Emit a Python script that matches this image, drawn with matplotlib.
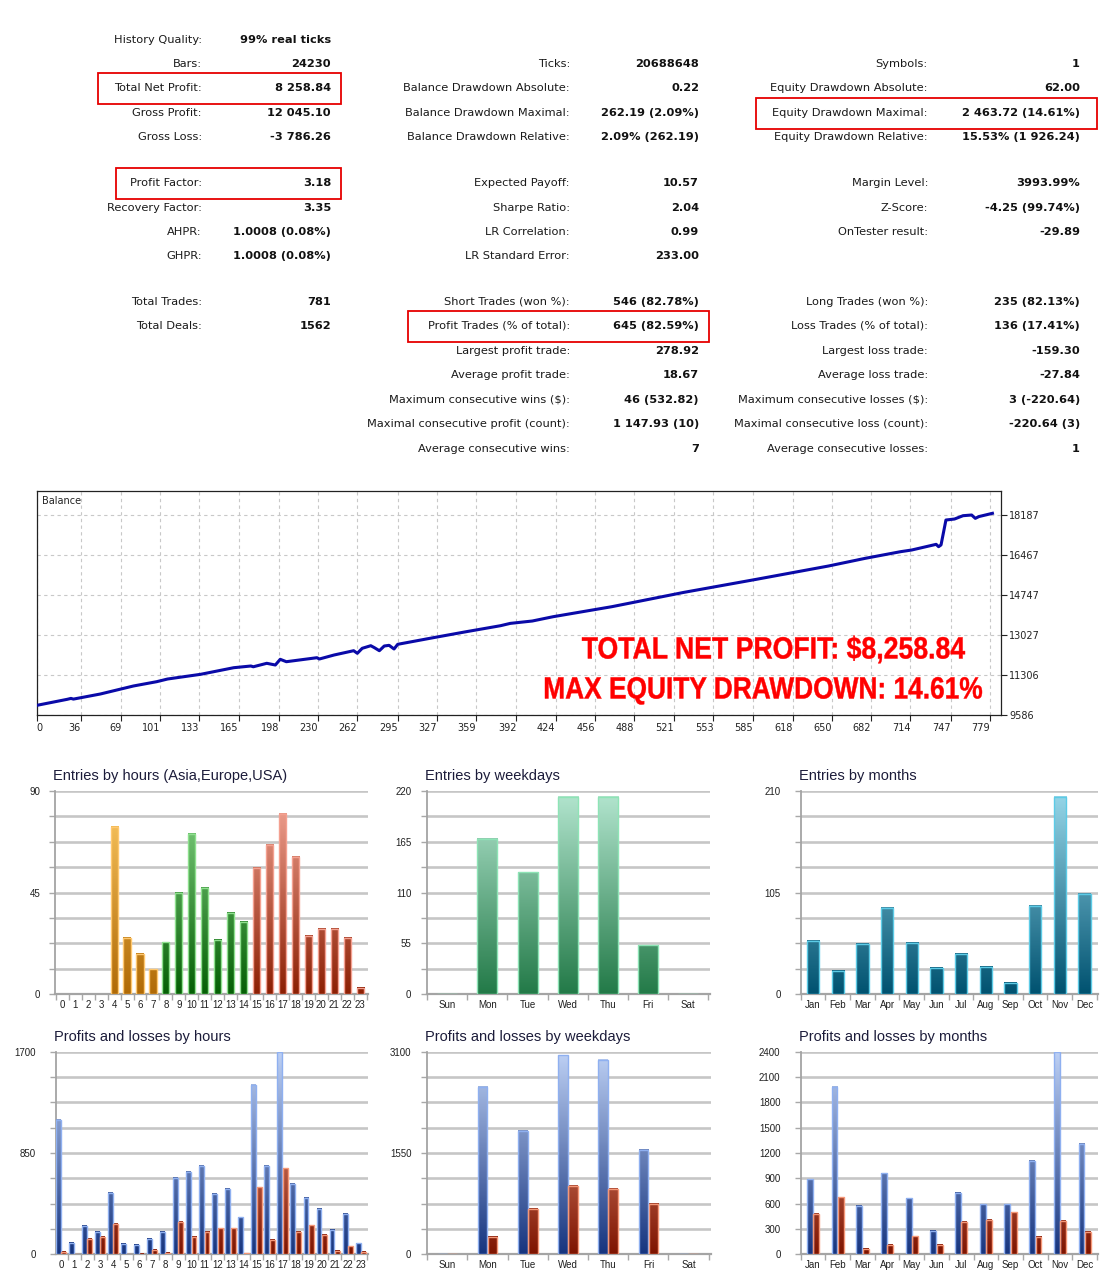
import numpy as np
import matplotlib.pyplot as plt
from matplotlib import font_manager
from matplotlib.colors import LinearSegmentedColormap
from matplotlib.patches import Rectangle, PathPatch
from matplotlib.textpath import TextPath
from matplotlib.font_manager import FontProperties
from matplotlib.transforms import Affine2D

# --- report table ---
left_labels = ["History Quality:", "Bars:", "Total Net Profit:", "Gross Profit:", "Gross Loss:",
               "Profit Factor:", "Recovery Factor:", "AHPR:", "GHPR:", "Total Trades:", "Total Deals:"]
left_values = ["99% real ticks", "24230", "8 258.84", "12 045.10", "-3 786.26",
               "3.18", "3.35", "1.0008 (0.08%)", "1.0008 (0.08%)", "781", "1562"]
mid_labels = ["Ticks:", "Balance Drawdown Absolute:", "Balance Drawdown Maximal:", "Balance Drawdown Relative:",
              "Expected Payoff:", "Sharpe Ratio:", "LR Correlation:", "LR Standard Error:",
              "Short Trades (won %):", "Profit Trades (% of total):", "Largest profit trade:",
              "Average profit trade:", "Maximum consecutive wins ($):",
              "Maximal consecutive profit (count):", "Average consecutive wins:"]
mid_values = ["20688648", "0.22", "262.19 (2.09%)", "2.09% (262.19)", "10.57", "2.04", "0.99", "233.00",
              "546 (82.78%)", "645 (82.59%)", "278.92", "18.67", "46 (532.82)", "1 147.93 (10)", "7"]
right_labels = ["Symbols:", "Equity Drawdown Absolute:", "Equity Drawdown Maximal:", "Equity Drawdown Relative:",
                "Margin Level:", "Z-Score:", "OnTester result:",
                "Long Trades (won %):", "Loss Trades (% of total):", "Largest loss trade:",
                "Average loss trade:", "Maximum consecutive losses ($):",
                "Maximal consecutive loss (count):", "Average consecutive losses:"]
right_values = ["1", "62.00", "2 463.72 (14.61%)", "15.53% (1 926.24)", "3993.99%", "-4.25 (99.74%)",
                "-29.89", "235 (82.13%)", "136 (17.41%)", "-159.30", "-27.84", "3 (-220.64)",
                "-220.64 (3)", "1"]

# --- balance curve (trade #, balance) ---
bal_trade = [0, 25, 28, 30, 52, 79, 98, 107, 134, 161, 175, 177, 188, 195, 199, 204, 229, 231,
             243, 259, 262, 266, 273, 276, 280, 284, 288, 292, 295, 324, 351, 379, 387, 405, 422,
             470, 529, 588, 647, 677, 706, 715, 735, 737, 739, 743, 750, 757, 764, 767, 770, 781]
bal_value = [10000, 10261, 10300, 10270, 10489, 10833, 11018, 11134, 11336, 11620, 11693, 11660,
             11809, 11736, 11981, 11878, 12050, 11994, 12166, 12351, 12239, 12454, 12566, 12480,
             12351, 12553, 12582, 12424, 12626, 12910, 13168, 13426, 13526, 13628, 13813,
             14244, 14861, 15420, 15993, 16323, 16610, 16681, 16925, 16824, 16900, 17971,
             18014, 18157, 18186, 18043, 18120, 18259]
bal_yticks = [9586, 11306, 13027, 14747, 16467, 18187]
bal_xticks = [0, 36, 69, 101, 133, 165, 198, 230, 262, 295, 327, 359, 392, 424, 456, 488,
              521, 553, 585, 618, 650, 682, 714, 747, 779]
bal_ytop = 19219
banner = ["TOTAL NET PROFIT: $8,258.84", "MAX EQUITY DRAWDOWN: 14.61%"]

# --- distributions ---
hours = [str(h) for h in range(24)]
weekdays = ["Sun", "Mon", "Tue", "Wed", "Thu", "Fri", "Sat"]
months = ["Jan", "Feb", "Mar", "Apr", "May", "Jun", "Jul", "Aug", "Sep", "Oct", "Nov", "Dec"]

entries_hours = [0, 0, 0, 0, 74, 25, 18, 11, 23, 45, 71, 47, 24, 36, 32, 56, 66, 80, 61, 26, 29, 29, 25, 3]
entries_weekdays = [0, 168, 132, 214, 214, 53, 0]
entries_months = [55, 24, 52, 89, 53, 27, 42, 28, 12, 91, 204, 104]

profit_hours = [1127, 98, 235, 185, 512, 89, 78, 131, 190, 643, 693, 744, 506, 551, 310, 1420,
                744, 1694, 593, 475, 383, 204, 338, 92]
loss_hours = [22, 0, 131, 145, 252, 0, 5, 34, 11, 271, 148, 187, 218, 218, 8, 562, 120, 721,
              185, 243, 165, 28, 67, 22]
profit_weekdays = [0, 2565, 1886, 3044, 2978, 1596, 0]
loss_weekdays = [0, 270, 698, 1050, 999, 770, 0]
profit_months = [888, 1982, 572, 959, 663, 280, 730, 592, 592, 1105, 2400, 1311]
loss_months = [478, 675, 67, 107, 213, 107, 387, 403, 497, 205, 391, 261]

# ---------------------------------------------------------------
W, H = 1114, 1284
fig = plt.figure(figsize=(W / 100, H / 100), dpi=100)
fig.patch.set_facecolor('white')

names = {f.name for f in font_manager.fontManager.ttflist}
NARROW = 'Liberation Sans Narrow' in names
TICKFONT = 'Liberation Sans Narrow' if NARROW else 'Liberation Sans'
TICKSIZE = 8 if NARROW else 7


def fx(x):
    return x / W


def fy(y):
    return 1 - y / H


def rect(l, t, r, b):
    return [l / W, 1 - b / H, (r - l) / W, (b - t) / H]


# --- table ---
ROW_Y = [40, 64, 88, 113, 137, 183, 208, 232, 256, 302, 326, 351, 375, 400, 424, 449]
cols = [
    (left_labels, left_values, list(range(0, 11)), 202, 331),
    (mid_labels, mid_values, list(range(1, 16)), 570, 699),
    (right_labels, right_values, [1, 2, 3, 4, 5, 6, 7, 9, 10, 11, 12, 13, 14, 15], 928, 1080),
]
for labels, values, rows, lx, vx in cols:
    for lab, val, r in zip(labels, values, rows):
        fig.text(fx(lx), fy(ROW_Y[r]), lab, ha='right', va='center', fontsize=8.2,
                 color='#1a1a1a', family='DejaVu Sans')
        fig.text(fx(vx), fy(ROW_Y[r]), val, ha='right', va='center', fontsize=8.2,
                 color='#111111', family='DejaVu Sans', fontweight='bold')

# red highlight boxes
for l, t, r, b in [(98, 73, 341, 104), (116, 168, 341, 199), (408, 311, 709, 342), (756, 98, 1097, 129)]:
    fig.add_artist(Rectangle((fx(l), fy(b)), (r - l) / W, (b - t) / H, transform=fig.transFigure,
                             fill=False, ec='#e60000', lw=1.3))

# --- balance graph ---
ax = fig.add_axes(rect(36.7, 491, 1001, 715))
ax.plot(bal_trade, bal_value, color='#0a0aa8', lw=2.2, zorder=3)
ax.set_xlim(0, 788)
ax.set_ylim(bal_yticks[0], bal_ytop)
ax.set_xticks(bal_xticks)
ax.set_xticklabels([str(v) for v in bal_xticks])
for i, t in enumerate(ax.get_xticklabels()):
    t.set_ha('left' if i == 0 else 'right')
ax.set_yticks(bal_yticks)
ax.set_yticklabels([str(v) for v in bal_yticks])
ax.yaxis.tick_right()
ax.tick_params(axis='both', labelsize=7, colors='#222222', length=4, width=0.8, pad=2)
ax.grid(True, color='#c8c8c8', ls=(0, (3, 3)), lw=0.8)
for s in ax.spines.values():
    s.set_color('#222222')
    s.set_linewidth(0.9)
ax.text(0.005, 0.955, "Balance", transform=ax.transAxes, fontsize=7, color='#222222', va='center')

# condensed red banner, drawn as scaled text paths on a pixel overlay
ov = fig.add_axes([0, 0, 1, 1], zorder=10)
ov.set_xlim(0, W)
ov.set_ylim(H, 0)
ov.axis('off')
ov.patch.set_alpha(0)
bprop = FontProperties(family='Liberation Sans', weight='bold')
for text, (left, right, base) in zip(banner, [(582, 965, 658.5), (545, 982, 698.5)]):
    tp = TextPath((0, 0), text, size=30.7, prop=bprop)
    bb = tp.get_extents()
    sx = (right - left) / bb.width
    tr = Affine2D().translate(-bb.x0, 0).scale(sx, -1).translate(left, base)
    ov.add_patch(PathPatch(tr.transform_path(tp), fc='#ff0000', ec='#ff0000', lw=0.3))


# --- bar panels ---
def cmap(bottom, top):
    return LinearSegmentedColormap.from_list('g', [bottom, top])


def grad_bars(ax, x, h, width, cm, edge, vmax):
    bars = ax.bar(x, h, width, color='none', edgecolor=edge, linewidth=1.0, zorder=4)
    for b in bars:
        hh = b.get_height()
        if hh <= 0:
            continue
        g = np.linspace(0, hh, 80).reshape(-1, 1)
        ax.imshow(g, extent=(b.get_x(), b.get_x() + b.get_width(), 0, hh), origin='lower',
                  aspect='auto', cmap=cm, vmin=0, vmax=vmax, zorder=3, interpolation='bilinear')


def panel(px, title, cats, ymax, labeled, pad):
    ax = fig.add_axes(rect(*px))
    levels = np.linspace(0, ymax, 9)
    for v in levels[1:]:
        ax.axhline(v, color='#c6c6c6', lw=1.9, zorder=1)
    ax.set_yticks(levels)
    ax.set_yticklabels([('%g' % v) if any(abs(v - L) < 1e-6 for L in labeled) else '' for v in levels])
    ax.set_xticks(range(len(cats)))
    ax.set_xticklabels(cats)
    ax.set_xticks(np.arange(len(cats) + 1) - 0.5, minor=True)
    ax.tick_params(axis='y', length=4, width=1, color='#a8a8a8', pad=pad)
    ax.tick_params(axis='x', which='major', length=0, pad=4)
    ax.tick_params(axis='x', which='minor', length=4, width=1, color='#a8a8a8')
    for t in ax.get_xticklabels() + ax.get_yticklabels():
        t.set_family(TICKFONT)
        t.set_fontsize(TICKSIZE)
        t.set_color('#202020')
    for s in ('top', 'right'):
        ax.spines[s].set_visible(False)
    ax.spines['left'].set_color('#a4a4a4')
    ax.spines['left'].set_linewidth(1.3)
    ax.spines['bottom'].set_color('#a4a4a4')
    ax.spines['bottom'].set_linewidth(1.6)
    fig.text(fx(px[0] - 2), fy(px[1] - 15), title, fontsize=10.5, color='#1c1c3a',
             family='Liberation Sans', va='center')
    return ax


# entries by hours
ax = panel((55, 791, 368, 994.3), "Entries by hours (Asia,Europe,USA)", hours, 90, [0, 45, 90], 6.5)
x = np.arange(24)
eh = np.array(entries_hours)
asia = (x >= 4) & (x <= 7)
europe = (x >= 8) & (x <= 14)
usa = x >= 15
grad_bars(ax, x[asia], eh[asia], 0.55, cmap('#b06a06', '#ffcc66'), '#ffc870', 90)
grad_bars(ax, x[europe], eh[europe], 0.55, cmap('#055f05', '#8ad88a'), '#8ee08e', 90)
grad_bars(ax, x[usa], eh[usa], 0.55, cmap('#8c2004', '#f5a898'), '#f4a090', 90)
ax.set_xlim(-0.56, 23.6)
ax.set_ylim(0, 90)

# entries by weekdays
ax = panel((427.3, 791, 710, 994.3), "Entries by weekdays", weekdays, 220, [0, 55, 110, 165, 220], 7.5)
grad_bars(ax, np.arange(7), entries_weekdays, 0.5, cmap('#237a48', '#b4e6d0'), '#8ee4b6', 220)
ax.set_xlim(-0.5, 6.55)
ax.set_ylim(0, 220)

# entries by months
ax = panel((800.7, 791, 1098, 994.3), "Entries by months", months, 210, [0, 105, 210], 10.5)
grad_bars(ax, np.arange(12), entries_months, 0.5, cmap('#005270', '#98d8ea'), '#5ccbe6', 210)
ax.set_xlim(-0.5, 11.55)
ax.set_ylim(0, 210)

blue_cm = cmap('#17357f', '#bdd0f4')
red_cm = cmap('#7e1400', '#ffb49a')

# profits and losses by hours
ax = panel((55.7, 1051.7, 367.7, 1254.3), "Profits and losses by hours", hours, 1700,
           [0, 850, 1700], 10.5)
grad_bars(ax, x - 0.2, profit_hours, 0.38, blue_cm, '#8fb0f0', 1700)
grad_bars(ax, x + 0.2, loss_hours, 0.38, red_cm, '#f59878', 1700)
ax.set_xlim(-0.42, 23.54)
ax.set_ylim(0, 1700)

# profits and losses by weekdays
ax = panel((427.3, 1051.7, 710.7, 1254.3), "Profits and losses by weekdays", weekdays, 3100,
           [0, 1550, 3100], 7.5)
xw = np.arange(7)
grad_bars(ax, xw - 0.125, profit_weekdays, 0.24, blue_cm, '#8fb0f0', 3100)
grad_bars(ax, xw + 0.125, loss_weekdays, 0.24, red_cm, '#f59878', 3100)
ax.set_xlim(-0.5, 6.55)
ax.set_ylim(0, 3100)

# profits and losses by months
ax = panel((800.7, 1051.7, 1098.3, 1254.3), "Profits and losses by months", months, 2400,
           list(range(0, 2401, 300)), 10.5)
xm = np.arange(12)
grad_bars(ax, xm - 0.13, profit_months, 0.24, blue_cm, '#8fb0f0', 2400)
grad_bars(ax, xm + 0.13, loss_months, 0.24, red_cm, '#f59878', 2400)
ax.set_xlim(-0.5, 11.55)
ax.set_ylim(0, 2400)

fig.savefig('out.png', dpi=100, facecolor='white')
